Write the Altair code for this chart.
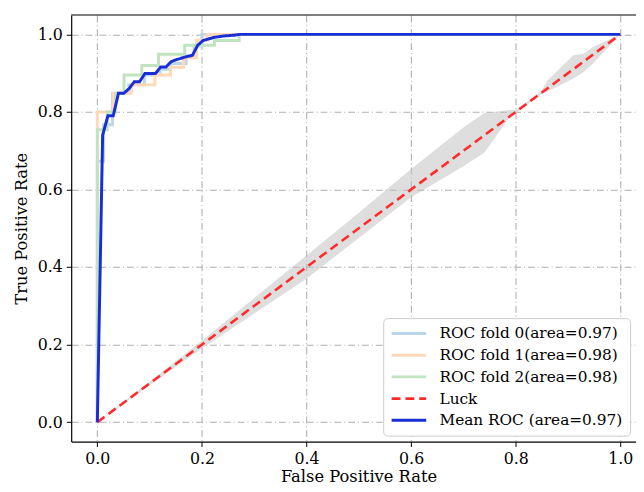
import altair as alt
import pandas as pd

SERIES = ["ROC fold 0(area=0.97)", "ROC fold 1(area=0.98)", "ROC fold 2(area=0.98)",
          "Luck", "Mean ROC (area=0.97)"]

fold0_fpr = [0, 0, 0.012, 0.012, 0.029, 0.029, 0.06, 0.06, 0.09, 0.09, 0.12, 0.12, 0.14, 0.14,
             0.17, 0.17, 0.185, 0.185, 0.2, 0.2, 1.0]
fold0_tpr = [0, 0.673, 0.673, 0.767, 0.767, 0.848, 0.848, 0.87, 0.87, 0.895, 0.895, 0.91, 0.91,
             0.925, 0.925, 0.945, 0.945, 0.97, 0.97, 1.0, 1.0]

fold1_fpr = [0, 0, 0.03, 0.03, 0.065, 0.065, 0.11, 0.11, 0.14, 0.14, 0.165, 0.165, 0.19, 0.19,
             0.21, 0.21, 1.0]
fold1_tpr = [0, 0.8, 0.8, 0.848, 0.848, 0.87, 0.87, 0.895, 0.895, 0.915, 0.915, 0.94, 0.94,
             0.985, 0.985, 1.0, 1.0]

fold2_fpr = [0, 0, 0.019, 0.019, 0.035, 0.035, 0.051, 0.051, 0.085, 0.085, 0.117, 0.117,
             0.167, 0.167, 0.224, 0.224, 0.271, 0.271, 1.0]
fold2_tpr = [0, 0.754, 0.754, 0.8, 0.8, 0.848, 0.848, 0.895, 0.895, 0.92, 0.92, 0.949, 0.949,
             0.972, 0.972, 0.984, 0.984, 1.0, 1.0]

luck_fpr = [0, 1]
luck_tpr = [0, 1]

mean_fpr = [0, 0.0101, 0.0202, 0.0303, 0.0404, 0.0505, 0.0606, 0.0707, 0.0808, 0.0909, 0.101,
            0.1111, 0.1212, 0.1313, 0.1414, 0.1515, 0.1616, 0.1717, 0.1818, 0.1919, 0.202,
            0.2121, 0.2222, 0.2323, 0.2424, 0.2525, 0.2626, 0.2727, 1.0]
mean_tpr = [0, 0.74, 0.79, 0.79, 0.848, 0.848, 0.86, 0.878, 0.878, 0.899, 0.899, 0.899, 0.916,
            0.916, 0.93, 0.935, 0.939, 0.943, 0.946, 0.972, 0.984, 0.988, 0.992, 0.994, 0.996,
            0.997, 0.998, 1.0, 1.0]

band_x = [0, 0.1, 0.2, 0.3, 0.4, 0.5, 0.6, 0.7, 0.74, 0.79, 0.8, 0.85, 0.86, 0.91, 0.93, 0.947, 1.0]
band_lo = [0, 0.095, 0.19, 0.28, 0.37, 0.475, 0.58, 0.66, 0.695, 0.79, 0.797, 0.847, 0.852,
           0.886, 0.903, 0.924, 1.0]
band_hi = [0, 0.105, 0.21, 0.32, 0.43, 0.54, 0.653, 0.76, 0.797, 0.805, 0.805, 0.855, 0.88,
           0.946, 0.95, 0.967, 1.0]

COLORS = ["#bcd6e8", "#ffd9b7", "#c0e3c0", "#ff2a2a", "#1a2ed6"]
DASHES = [[1, 0], [1, 0], [1, 0], [9, 5], [1, 0]]

rows = []
for name, xs, ys in zip(SERIES, [fold0_fpr, fold1_fpr, fold2_fpr, luck_fpr, mean_fpr],
                        [fold0_tpr, fold1_tpr, fold2_tpr, luck_tpr, mean_tpr]):
    for i, (a, b) in enumerate(zip(xs, ys)):
        rows.append({"fpr": a, "tpr": b, "series": name, "idx": i})
lines = pd.DataFrame(rows)
band = pd.DataFrame({"fpr": band_x, "lo": band_lo, "hi": band_hi})

FONT = "DejaVu Serif"
xscale = alt.Scale(domain=[-0.05, 1.03], nice=False, zero=False)
yscale = alt.Scale(domain=[-0.05, 1.05], nice=False, zero=False)
ticks = [0, 0.2, 0.4, 0.6, 0.8, 1.0]

X = alt.X("fpr:Q", scale=xscale, title="False Positive Rate",
          axis=alt.Axis(values=ticks, format=".1f"))
Y = alt.Y("tpr:Q", scale=yscale, title="True Positive Rate",
          axis=alt.Axis(values=ticks, format=".1f"))

enc = dict(
    x=X, y=Y,
    order=alt.Order("idx:Q"),
    color=alt.Color("series:N", scale=alt.Scale(domain=SERIES, range=COLORS),
                    legend=alt.Legend(title=None)),
    strokeDash=alt.StrokeDash("series:N", scale=alt.Scale(domain=SERIES, range=DASHES),
                              legend=alt.Legend(title=None)),
)

base = alt.Chart(lines)
band_layer = alt.Chart(band).mark_area(color="#bdbdbd", opacity=0.5).encode(
    x=X, y=alt.Y("lo:Q", scale=yscale, title="True Positive Rate",
                 axis=alt.Axis(values=ticks, format=".1f")),
    y2="hi:Q")
folds = base.transform_filter(
    alt.FieldOneOfPredicate(field="series", oneOf=SERIES[:3])).mark_line(strokeWidth=3).encode(**enc)
luck = base.transform_filter(alt.datum.series == "Luck").mark_line(strokeWidth=2.6).encode(**enc)
mean = base.transform_filter(alt.datum.series == SERIES[4]).mark_line(strokeWidth=3).encode(**enc)
top = alt.Chart(pd.DataFrame({"v": [1.05]})).mark_rule(color="black", strokeWidth=1.2).encode(
    y=alt.Y("v:Q", scale=yscale))

chart = alt.layer(band_layer, folds, luck, mean, top).properties(
    width=572, height=432,
    autosize=alt.AutoSizeParams(type="none"),
    padding={"left": 64, "top": 4, "right": 0, "bottom": 48},
).configure_view(stroke=None).configure_axis(
    labelFont=FONT, labelFontSize=16, labelColor="black",
    titleFont=FONT, titleFontSize=16.5, titleFontWeight="normal", titleColor="black",
    domainColor="black", domainWidth=1.2, tickColor="black", tickSize=5, tickWidth=1,
    gridColor="#b0b0b0", gridDash=[7, 3, 1, 3], gridWidth=1.1, labelPadding=4,
).configure_axisX(titlePadding=2, titleX=291).configure_axisY(titlePadding=8).configure_legend(
    orient="bottom-right", offset=6, padding=7, fillColor="white", strokeColor="#cccccc",
    cornerRadius=4, labelFont=FONT, labelFontSize=15.5, labelColor="black", labelLimit=0,
    symbolType="M-1,0H4", symbolSize=196, symbolStrokeWidth=3, labelOffset=33,
    rowPadding=5,
)

chart.save("out.html", embed_options={"renderer": "svg", "actions": False})
